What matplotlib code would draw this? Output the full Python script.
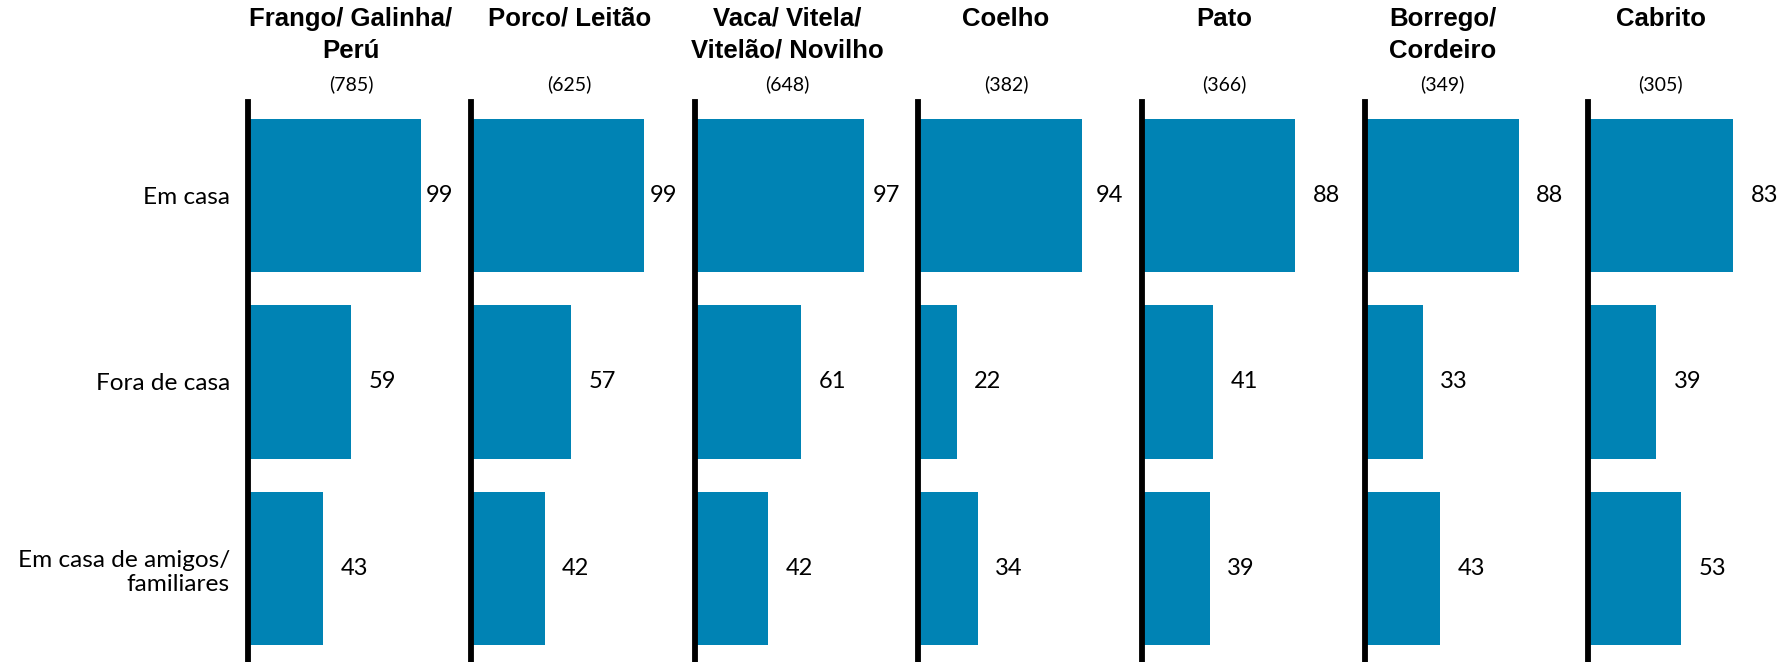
import matplotlib
matplotlib.use("Agg")
import matplotlib.pyplot as plt

categories = ["Em casa", "Fora de casa", "Em casa de amigos/\nfamiliares"]
panels = ["Frango/ Galinha/\nPerú", "Porco/ Leitão", "Vaca/ Vitela/\nVitelão/ Novilho",
          "Coelho", "Pato", "Borrego/\nCordeiro", "Cabrito"]
bases = ["(785)", "(625)", "(648)", "(382)", "(366)", "(349)", "(305)"]
em_casa = [99, 99, 97, 94, 88, 88, 83]
fora_casa = [59, 57, 61, 22, 41, 33, 39]
amigos = [43, 42, 42, 34, 39, 43, 53]

BAR = "#0083B4"
W, H = 1781, 662
fig = plt.figure(figsize=(W / 100, H / 100), dpi=100)

ax_top = 102
xmax = 118
px_per_unit = 1.745
for i, (title, base) in enumerate(zip(panels, bases)):
    x0 = 248 + 223.4 * i
    ax = fig.add_axes([x0 / W, 0, xmax * px_per_unit / W, 1 - ax_top / H])
    vals = [em_casa[i], fora_casa[i], amigos[i]]
    ypos = list(range(len(categories)))
    ax.barh(ypos, vals, height=0.82, color=BAR, zorder=1)
    ax.set_xlim(0, xmax)
    ax.set_ylim(2.5, -0.5)
    for s in ["top", "right", "bottom"]:
        ax.spines[s].set_visible(False)
    ax.spines["left"].set_linewidth(4.2)
    ax.spines["left"].set_color("black")
    ax.spines["left"].set_zorder(3)
    ax.set_xticks([])
    if i == 0:
        ax.set_yticks(ypos)
        ax.set_yticklabels(categories, fontsize=17.6, family="Lato", linespacing=1.2)
        ax.tick_params(axis="y", length=0, pad=13)
    else:
        ax.set_yticks([])
    for y, v in zip(ypos, vals):
        ax.text(min(v + 10, 102), y, str(v), ha="left", va="center",
                fontsize=17, family="Lato", color="black")
    cx = (351 + 218.3 * i) / W
    fig.text(cx, 1 - 7 / H, title, ha="center", va="top", fontsize=18.5,
             fontweight="bold", family="Liberation Sans", linespacing=1.4)
    fig.text(cx, 1 - 84 / H, base, ha="center", va="center", fontsize=14,
             family="Lato")

fig.savefig("out.png", dpi=100, facecolor="white")
